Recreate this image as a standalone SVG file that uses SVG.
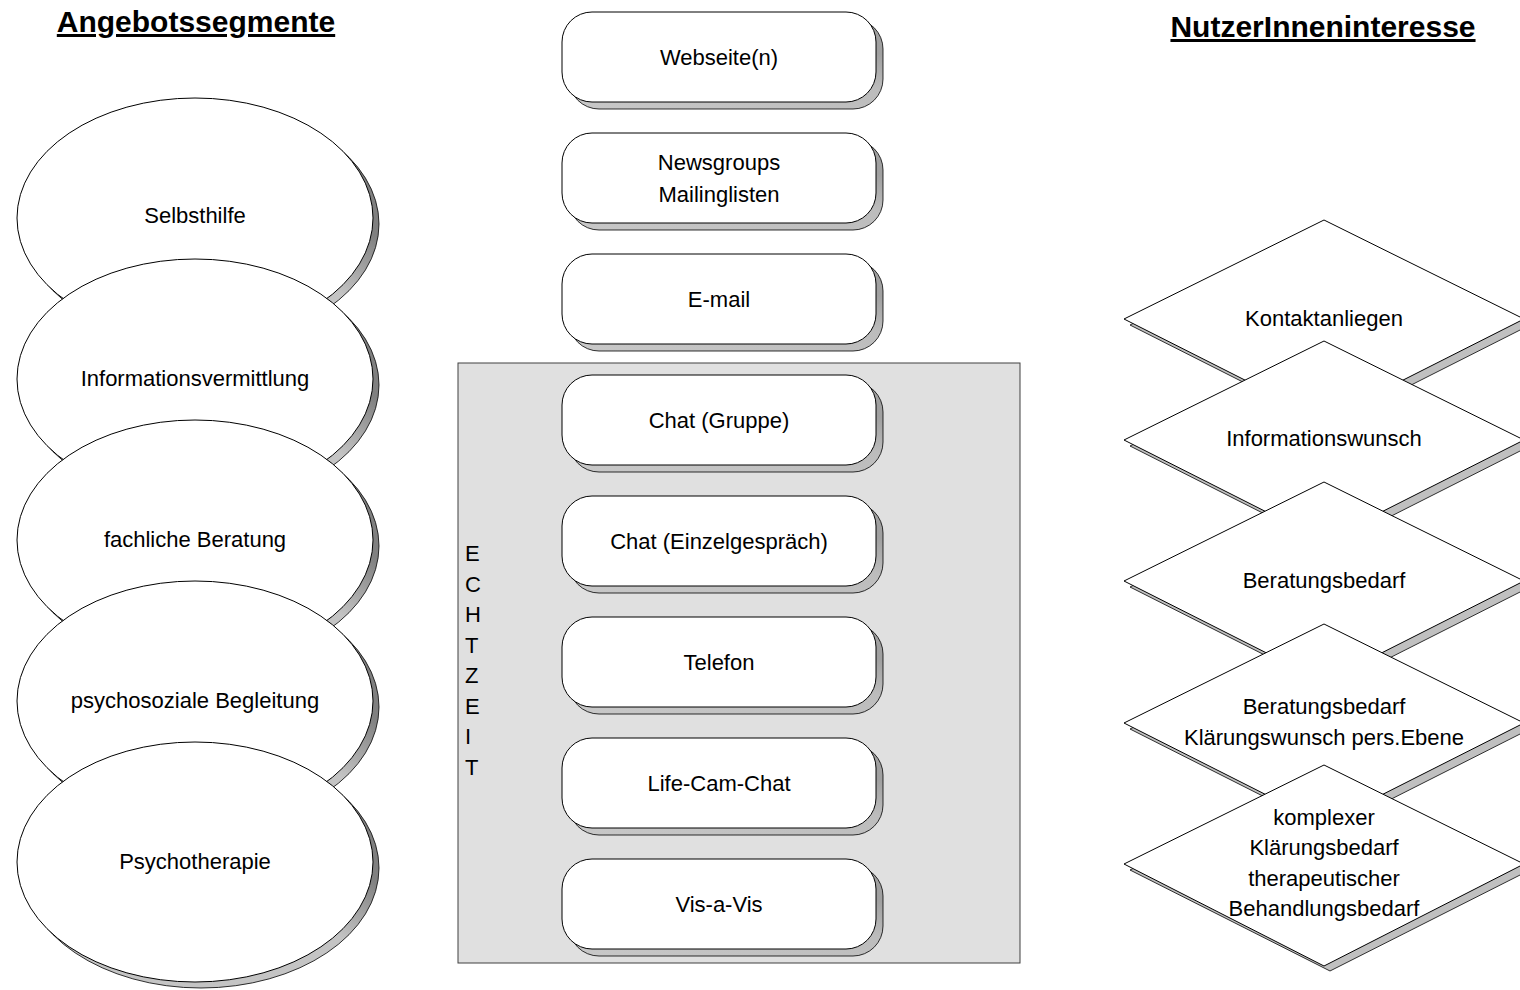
<svg xmlns="http://www.w3.org/2000/svg" width="1520" height="990" viewBox="0 0 1520 990">
<defs>
<style>
text{font-family:"Liberation Sans",Arial,sans-serif;font-size:22px;fill:#000;}
.c{text-anchor:middle;}
.h{font-size:30px;font-weight:bold;text-anchor:middle;text-decoration:underline;}
.ell{fill:#fff;stroke:#000;stroke-width:1;}
.esh{fill:url(#eg);stroke:#000;stroke-width:0.8;}
.box{fill:#fff;stroke:#000;stroke-width:1;}
.bsh{fill:url(#bg);stroke:#000;stroke-width:0.8;}
.dia{fill:#fff;stroke:#000;stroke-width:1;}
.dsh{fill:#c0c0c0;stroke:#000;stroke-width:0.8;}
</style>
<linearGradient id="eg" x1="0" y1="1" x2="1" y2="0">
<stop offset="0" stop-color="#c4c4c4"/>
<stop offset="0.55" stop-color="#c4c4c4"/>
<stop offset="0.72" stop-color="#808080"/>
<stop offset="1" stop-color="#808080"/>
</linearGradient>
<linearGradient id="bg" x1="0" y1="1" x2="1" y2="0">
<stop offset="0" stop-color="#c8c8c8"/>
<stop offset="0.6" stop-color="#bcbcbc"/>
<stop offset="0.8" stop-color="#a0a0a0"/>
<stop offset="1" stop-color="#a0a0a0"/>
</linearGradient>
</defs>
<rect width="1520" height="990" fill="#fff"/>

<g id="headings">
<text class="h" x="196" y="32">Angebotssegmente</text>
<text class="h" x="1323" y="37">NutzerInneninteresse</text>
</g>

<g id="echtzeit-bereich">
<rect x="458" y="363" width="562" height="600" fill="#e0e0e0" stroke="#404040" stroke-width="1"/>
<text x="465" y="561">E</text>
<text x="465" y="591.5">C</text>
<text x="465" y="622">H</text>
<text x="465" y="652.5">T</text>
<text x="465" y="683">Z</text>
<text x="465" y="713.5">E</text>
<text x="465" y="744">I</text>
<text x="465" y="774.5">T</text>
</g>

<g id="ellipse-selbsthilfe">
<ellipse class="esh" cx="201" cy="224" rx="178" ry="120"/>
<ellipse class="ell" cx="195" cy="218" rx="178" ry="120"/>
<text class="c" x="195" y="223">Selbsthilfe</text>
</g>
<g id="ellipse-informationsvermittlung">
<ellipse class="esh" cx="201" cy="385" rx="178" ry="120"/>
<ellipse class="ell" cx="195" cy="379" rx="178" ry="120"/>
<text class="c" x="195" y="386">Informationsvermittlung</text>
</g>
<g id="ellipse-fachliche-beratung">
<ellipse class="esh" cx="201" cy="546" rx="178" ry="120"/>
<ellipse class="ell" cx="195" cy="540" rx="178" ry="120"/>
<text class="c" x="195" y="547">fachliche Beratung</text>
</g>
<g id="ellipse-psychosoziale-begleitung">
<ellipse class="esh" cx="201" cy="707" rx="178" ry="120"/>
<ellipse class="ell" cx="195" cy="701" rx="178" ry="120"/>
<text class="c" x="195" y="708">psychosoziale Begleitung</text>
</g>
<g id="ellipse-psychotherapie">
<ellipse class="esh" cx="201" cy="868" rx="178" ry="120"/>
<ellipse class="ell" cx="195" cy="862" rx="178" ry="120"/>
<text class="c" x="195" y="869">Psychotherapie</text>
</g>

<g id="box-webseiten">
<rect class="bsh" x="569" y="19" width="314" height="90" rx="30"/>
<rect class="box" x="562" y="12" width="314" height="90" rx="30"/>
<text class="c" x="719" y="65">Webseite(n)</text>
</g>
<g id="box-newsgroups">
<rect class="bsh" x="569" y="140" width="314" height="90" rx="30"/>
<rect class="box" x="562" y="133" width="314" height="90" rx="30"/>
<text class="c" x="719" y="170">Newsgroups</text>
<text class="c" x="719" y="202">Mailinglisten</text>
</g>
<g id="box-email">
<rect class="bsh" x="569" y="261" width="314" height="90" rx="30"/>
<rect class="box" x="562" y="254" width="314" height="90" rx="30"/>
<text class="c" x="719" y="307">E-mail</text>
</g>
<g id="box-chat-gruppe">
<rect class="bsh" x="569" y="382" width="314" height="90" rx="30"/>
<rect class="box" x="562" y="375" width="314" height="90" rx="30"/>
<text class="c" x="719" y="428">Chat (Gruppe)</text>
</g>
<g id="box-chat-einzel">
<rect class="bsh" x="569" y="503" width="314" height="90" rx="30"/>
<rect class="box" x="562" y="496" width="314" height="90" rx="30"/>
<text class="c" x="719" y="549">Chat (Einzelgespräch)</text>
</g>
<g id="box-telefon">
<rect class="bsh" x="569" y="624" width="314" height="90" rx="30"/>
<rect class="box" x="562" y="617" width="314" height="90" rx="30"/>
<text class="c" x="719" y="670">Telefon</text>
</g>
<g id="box-lifecam">
<rect class="bsh" x="569" y="745" width="314" height="90" rx="30"/>
<rect class="box" x="562" y="738" width="314" height="90" rx="30"/>
<text class="c" x="719" y="791">Life-Cam-Chat</text>
</g>
<g id="box-visavis">
<rect class="bsh" x="569" y="866" width="314" height="90" rx="30"/>
<rect class="box" x="562" y="859" width="314" height="90" rx="30"/>
<text class="c" x="719" y="912">Vis-a-Vis</text>
</g>

<g id="diamond-kontakt">
<polygon class="dsh" points="1330,226 1530,325 1330,426 1130,325"/>
<polygon class="dia" points="1324,220 1524,319 1324,420 1124,319"/>
<text class="c" x="1324" y="326">Kontaktanliegen</text>
</g>
<g id="diamond-information">
<polygon class="dsh" points="1330,347 1530,446 1330,547 1130,446"/>
<polygon class="dia" points="1324,341 1524,440 1324,541 1124,440"/>
<text class="c" x="1324" y="446">Informationswunsch</text>
</g>
<g id="diamond-beratung">
<polygon class="dsh" points="1330,488 1530,587 1330,688 1130,587"/>
<polygon class="dia" points="1324,482 1524,581 1324,682 1124,581"/>
<text class="c" x="1324" y="588">Beratungsbedarf</text>
</g>
<g id="diamond-klaerung">
<polygon class="dsh" points="1330,630 1530,729 1330,830 1130,729"/>
<polygon class="dia" points="1324,624 1524,723 1324,824 1124,723"/>
<text class="c" x="1324" y="714">Beratungsbedarf</text>
<text class="c" x="1324" y="745">Klärungswunsch pers.Ebene</text>
</g>
<g id="diamond-komplex">
<polygon class="dsh" points="1330,771 1530,870 1330,971 1130,870"/>
<polygon class="dia" points="1324,765 1524,864 1324,966 1124,864"/>
<text class="c" x="1324" y="825">komplexer</text>
<text class="c" x="1324" y="855">Klärungsbedarf</text>
<text class="c" x="1324" y="886">therapeutischer</text>
<text class="c" x="1324" y="916">Behandlungsbedarf</text>
</g>

<g id="connectors"/>
</svg>
